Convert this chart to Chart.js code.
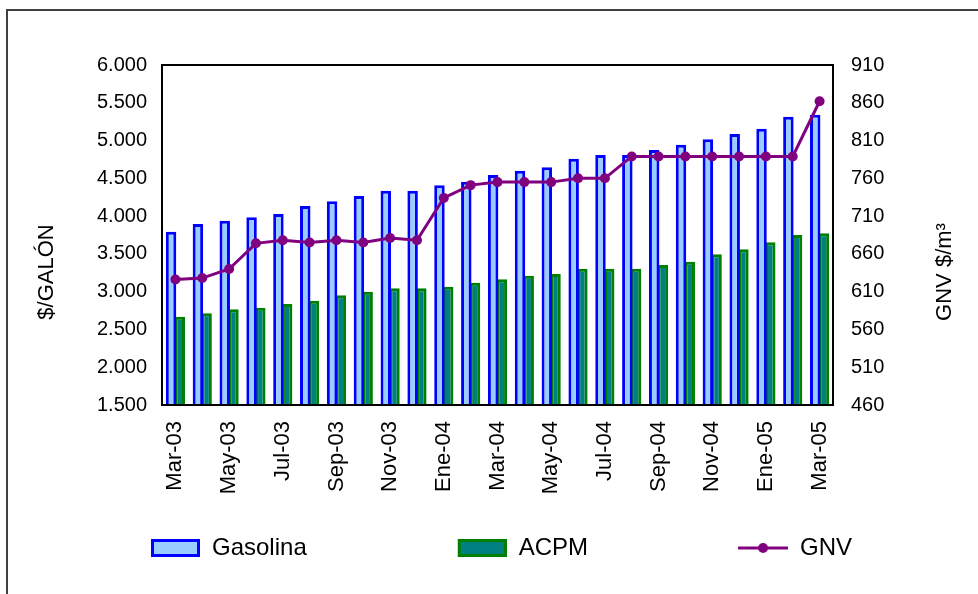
<!DOCTYPE html>
<html>
<head>
<meta charset="utf-8">
<title>Precios combustibles</title>
<script src="https://cdn.jsdelivr.net/npm/chart.js@4.4.1/dist/chart.umd.min.js"></script>
<style>
  body { margin: 0; background: #fff; }
  #chart { display: block; }
</style>
</head>
<body>
<canvas id="chart" width="978" height="594"></canvas>
<script>
const months = ['Mar-03', 'Abr-03', 'May-03', 'Jun-03', 'Jul-03', 'Ago-03', 'Sep-03', 'Oct-03', 'Nov-03', 'Dic-03',
  'Ene-04', 'Feb-04', 'Mar-04', 'Abr-04', 'May-04', 'Jun-04', 'Jul-04', 'Ago-04', 'Sep-04', 'Oct-04', 'Nov-04', 'Dic-04',
  'Ene-05', 'Feb-05', 'Mar-05'];

// $/galón
const gasolina = [3794, 3896, 3940, 3985, 4028, 4134, 4196, 4266, 4337, 4337, 4408, 4456, 4544,
  4601, 4646, 4760, 4809, 4809, 4875, 4945, 5016, 5087, 5157, 5316, 5343];
const acpm = [2669, 2713, 2766, 2788, 2837, 2881, 2951, 3000, 3044, 3044, 3066, 3119, 3163,
  3212, 3234, 3304, 3304, 3304, 3353, 3397, 3494, 3560, 3653, 3750, 3772];
// $/m3
const gnv = [626, 628, 640, 674, 678, 675, 678, 675, 681, 678, 734, 751, 755,
  755, 755, 760, 760, 789, 789, 789, 789, 789, 789, 789, 862];

const leftTicks = [1500, 6000, 500];   // min, max, step
const rightTicks = [460, 910, 50];

const FONT = 'Liberation Sans, Arial, sans-serif';

function fmtMiles(v) {
  return String(v).replace(/\B(?=(\d{3})+(?!\d))/g, '.');
}

// legend swatches (drawn into small canvases, used as point styles)
function swatch(kind) {
  const c = document.createElement('canvas');
  c.width = 183;
  c.height = 20;
  const g = c.getContext('2d');
  if (kind === 'line') {
    g.strokeStyle = '#800080';
    g.lineWidth = 3;
    g.beginPath();
    g.moveTo(133, 10);
    g.lineTo(183, 10);
    g.stroke();
    g.fillStyle = '#800080';
    g.beginPath();
    g.arc(158, 10, 5, 0, Math.PI * 2);
    g.fill();
  } else {
    g.fillStyle = kind === 'gas' ? '#99CCFF' : '#008080';
    g.fillRect(134, 1, 49, 18);
    g.strokeStyle = kind === 'gas' ? '#0000FF' : '#008000';
    g.lineWidth = 3;
    g.strokeRect(135.5, 2.5, 46, 15);
  }
  return c;
}
const swatches = [swatch('gas'), swatch('acpm'), swatch('line')];

const decor = {
  id: 'decor',
  beforeDraw(chart) {
    const ctx = chart.ctx;
    ctx.save();
    ctx.strokeStyle = '#404040';
    ctx.lineWidth = 2;
    ctx.beginPath();
    ctx.moveTo(7, 594);
    ctx.lineTo(7, 10);
    ctx.lineTo(978, 10);
    ctx.stroke();
    ctx.restore();
  },
  afterDraw(chart) {
    const {ctx, chartArea: a} = chart;
    ctx.save();
    ctx.strokeStyle = '#000';
    ctx.lineWidth = 2;
    ctx.strokeRect(a.left, a.top, a.right - a.left, a.bottom - a.top);

    const midY = (a.top + a.bottom) / 2 + 37;
    ctx.fillStyle = '#000';
    ctx.textAlign = 'center';
    ctx.textBaseline = 'middle';
    ctx.font = '22px ' + FONT;
    ctx.translate(47, midY);
    ctx.rotate(-Math.PI / 2);
    ctx.fillText('$/GALÓN', 0, 0);
    ctx.restore();

    ctx.save();
    ctx.fillStyle = '#000';
    ctx.textAlign = 'center';
    ctx.textBaseline = 'middle';
    ctx.font = '22px ' + FONT;
    ctx.translate(945, midY);
    ctx.rotate(-Math.PI / 2);
    ctx.fillText('GNV $/m³', 0, 0);
    ctx.restore();
  }
};

new Chart(document.getElementById('chart'), {
  type: 'bar',
  data: {
    labels: months,
    datasets: [
      {
        label: 'Gasolina',
        data: gasolina,
        backgroundColor: '#99CCFF',
        borderColor: '#0000FF',
        borderWidth: 3,
        borderSkipped: false,
        yAxisID: 'y'
      },
      {
        label: 'ACPM',
        data: acpm,
        backgroundColor: '#008080',
        borderColor: '#008000',
        borderWidth: 3,
        borderSkipped: false,
        yAxisID: 'y'
      },
      {
        type: 'line',
        label: 'GNV',
        data: gnv,
        borderColor: '#800080',
        borderWidth: 3,
        pointRadius: 5,
        pointBackgroundColor: '#800080',
        pointBorderWidth: 0,
        tension: 0,
        order: -1,
        yAxisID: 'y1'
      }
    ]
  },
  options: {
    responsive: false,
    animation: false,
    categoryPercentage: 0.65,
    barPercentage: 1.2,
    layout: { padding: { top: 65, bottom: 24, left: 0, right: 0 } },
    plugins: {
      tooltip: { enabled: false },
      legend: {
        position: 'bottom',
        align: 'start',
        labels: {
          usePointStyle: true,
          pointStyleWidth: 183,
          padding: 17,
          color: '#000',
          font: { family: FONT, size: 24 },
          generateLabels(chart) {
            const items = Chart.defaults.plugins.legend.labels.generateLabels(chart);
            items.sort((p, q) => p.datasetIndex - q.datasetIndex);
            items.forEach(it => { it.pointStyle = swatches[it.datasetIndex]; });
            return items;
          }
        }
      }
    },
    scales: {
      x: {
        grid: { display: false, drawTicks: false },
        border: { display: false },
        afterFit(axis) { axis.height = 114; },
        ticks: {
          autoSkip: false,
          minRotation: 90,
          maxRotation: 90,
          padding: 16,
          color: '#000',
          font: { family: FONT, size: 22 },
          callback: (v, i) => (i % 2 === 0 ? months[i] : '')
        }
      },
      y: {
        position: 'left',
        min: leftTicks[0],
        max: leftTicks[1],
        grid: { display: false, drawTicks: false },
        border: { display: false },
        afterFit(axis) { axis.width = 162; },
        ticks: {
          stepSize: leftTicks[2],
          padding: 15,
          color: '#000',
          font: { family: FONT, size: 20 },
          callback: v => fmtMiles(v)
        }
      },
      y1: {
        position: 'right',
        min: rightTicks[0],
        max: rightTicks[1],
        grid: { display: false, drawTicks: false },
        border: { display: false },
        afterFit(axis) { axis.width = 145; },
        ticks: {
          stepSize: rightTicks[2],
          padding: 18,
          color: '#000',
          font: { family: FONT, size: 20 }
        }
      }
    }
  },
  plugins: [decor]
});
</script>
</body>
</html>
